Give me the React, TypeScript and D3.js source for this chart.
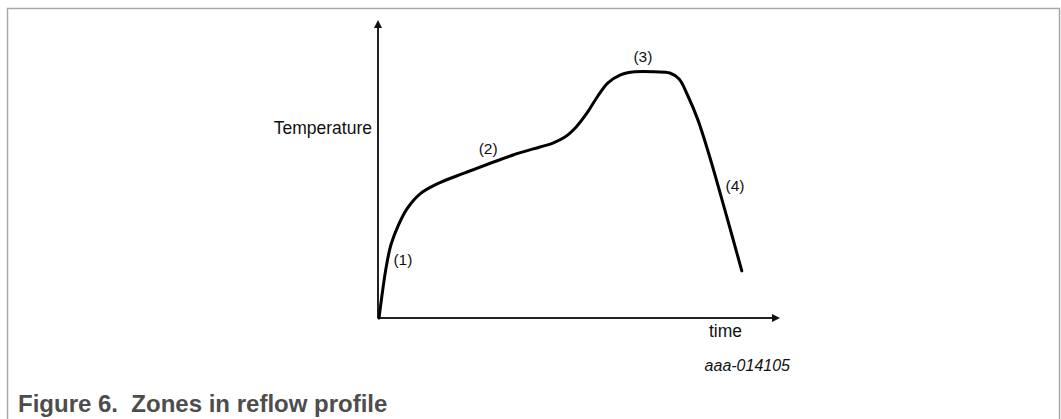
import React from 'react';
import * as d3 from 'd3';

// reflow profile (arbitrary units: 0..100 on both axes)
const timeValues = [0.25, 1.0, 2.0, 3.2, 5.0, 7.2, 10.4, 14.7, 21.6, 33.6, 40.3, 43.5, 46.5, 49.3, 52.0, 54.7, 57.2, 60.2, 63.9, 68.9, 72.6, 74.9, 77.1, 79.6, 82.6, 86.3, 90.5];
const tempValues = [0, 7.7, 16.8, 24.5, 30.9, 36.6, 41.6, 45.0, 48.7, 54.7, 57.4, 58.7, 60.7, 64.1, 68.8, 74.5, 78.9, 81.5, 82.6, 82.6, 82.2, 80.2, 74.5, 66.4, 53.7, 36.2, 15.8];

const zoneLabels = ['(1)', '(2)', '(3)', '(4)'];
const zoneX = [6.2, 27.4, 65.9, 88.8];
const zoneY = [19.5, 57.0, 87.6, 44.3];

const W = 1061;
const H = 419;
const FONT = 'Arial, "Liberation Sans", sans-serif';

export default function App() {
  const originX = 378;
  const originY = 318;
  const axisEndX = 780;
  const axisEndY = 20;

  const x = d3.scaleLinear().domain([0, 100]).range([originX, axisEndX]);
  const y = d3.scaleLinear().domain([0, 100]).range([originY, axisEndY]);

  const pts: [number, number][] = timeValues.map((t, i) => [x(t), y(tempValues[i])]);
  const line = d3.line().curve(d3.curveCatmullRom.alpha(0.5))(pts) || '';

  return (
    <svg width={W} height={H} style={{ position: 'absolute', left: 0, top: 0, background: '#fff' }}>
      <rect x={7.5} y={8.5} width={1052} height={430} fill="none" stroke="#a8a8a8" strokeWidth={1.5} />

      {/* axes */}
      <line x1={originX} y1={originY} x2={originX} y2={axisEndY + 7} stroke="#222" strokeWidth={2} />
      <path d={`M${originX - 4},${axisEndY + 8} L${originX},${axisEndY} L${originX + 4},${axisEndY + 8} Z`} fill="#111" />
      <line x1={originX} y1={originY} x2={axisEndX - 7} y2={originY} stroke="#222" strokeWidth={2} />
      <path d={`M${axisEndX - 8},${originY - 4} L${axisEndX},${originY} L${axisEndX - 8},${originY + 4} Z`} fill="#111" />

      <text x={372} y={134} textAnchor="end" fontFamily={FONT} fontSize={17.5} fill="#111">Temperature</text>
      <text x={709} y={337} fontFamily={FONT} fontSize={17.5} fill="#111">time</text>

      <path d={line} fill="none" stroke="#000" strokeWidth={3} strokeLinejoin="round" strokeLinecap="round" />

      {zoneLabels.map((l, i) => (
        <text key={l} x={x(zoneX[i])} y={y(zoneY[i]) + 5.5} textAnchor="middle" fontFamily={FONT} fontSize={15.5} fill="#111">{l}</text>
      ))}

      <text x={790} y={371} textAnchor="end" fontFamily={FONT} fontStyle="italic" fontSize={16} fill="#111">aaa-014105</text>

      <text x={18} y={412} fontFamily={FONT} fontWeight="bold" fontSize={24} fill="#4d4d4d" style={{ whiteSpace: 'pre' }}>Figure 6.  Zones in reflow profile</text>
    </svg>
  );
}
